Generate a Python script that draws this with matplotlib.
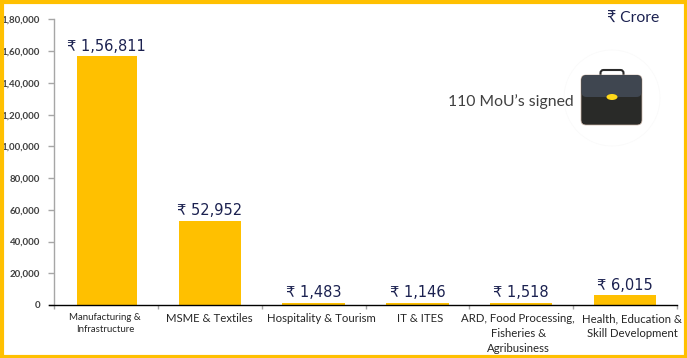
import numpy as np
import matplotlib
matplotlib.use('Agg')
import matplotlib.pyplot as plt
from matplotlib.patches import Rectangle, FancyBboxPatch, Circle, Ellipse
from matplotlib.transforms import ScaledTranslation

# data
categories = ['Manufacturing &\nInfrastructure', 'MSME & Textiles', 'Hospitality & Tourism',
              'IT & ITES', 'ARD, Food Processing,\nFisheries &\nAgribusiness',
              'Health, Education &\nSkill Development']
values = [156811, 52952, 1483, 1146, 1518, 6015]
value_labels = ['₹ 1,56,811', '₹ 52,952', '₹ 1,483', '₹ 1,146', '₹ 1,518', '₹ 6,015']
y_ticks = [0, 20000, 40000, 60000, 80000, 100000, 120000, 140000, 160000, 180000]
y_tick_labels = ['0', '20,000', '40,000', '60,000', '80,000', '1,00,000', '1,20,000',
                 '1,40,000', '1,60,000', '1,80,000']

W, H = 687, 358
YELLOW = '#FFC000'
NAVY = '#1B2150'
GREY = '#404040'
text_font = ['Lato', 'DejaVu Sans']
# horizontal nudges of the category labels, in pixels
label_shift = [-1, 0, 8, 3, -3, 7]

fig = plt.figure(figsize=(W / 100, H / 100), dpi=100)

# main chart
ax = fig.add_axes([54 / W, 1 - 305 / H, (677 - 54) / W, (305 - 19.5) / H])
pos = np.arange(len(values)) + 0.5
bars = ax.bar(pos, values, width=0.6, color=YELLOW)
bars[0].set_x(0.22)
bars[0].set_width(0.58)
ax.set_xlim(0, 6)
ax.set_ylim(0, 180000)

for s in ['top', 'right']:
    ax.spines[s].set_visible(False)
ax.spines['left'].set_color('#A6A6A6')
ax.spines['left'].set_linewidth(1)
ax.spines['bottom'].set_color('black')
ax.spines['bottom'].set_linewidth(1)
ax.spines['bottom'].set_bounds(-0.05, 6)
ax.spines['bottom'].set_zorder(5)

ax.set_yticks(y_ticks)
ax.set_yticklabels(y_tick_labels, fontsize=7, color=GREY, fontweight='bold', family=text_font)
ax.tick_params(axis='y', length=4, width=1, color='#A6A6A6', pad=6, direction='out')

ax.set_xticks(np.arange(0, 7))
ax.set_xticklabels([])
ax.tick_params(axis='x', which='major', length=3, width=1, color='#A6A6A6')
ax.set_xticks(pos, minor=True)
ax.set_xticklabels(categories, minor=True, fontsize=8.2, color='#262626', family=text_font,
                   linespacing=1.45)
ax.tick_params(axis='x', which='minor', length=0, pad=6)
ax.get_xticklabels(minor=True)[0].set_fontsize(6.9)
for t, dx in zip(ax.get_xticklabels(minor=True), label_shift):
    t.set_transform(t.get_transform() + ScaledTranslation(dx / 100, 0, fig.dpi_scale_trans))

for p, v, lab in zip(pos, values, value_labels):
    ax.annotate(lab, (p, v), xytext=(0, 2), textcoords='offset points', ha='center', va='bottom',
                fontsize=10.5, color=NAVY, family='DejaVu Sans')

# overlay in pixel coordinates: captions, briefcase, border
ov = fig.add_axes([0, 0, 1, 1], facecolor='none')
ov.set_xlim(0, W)
ov.set_ylim(H, 0)
ov.axis('off')

ov.text(633.5, 19, '₹ Crore', ha='center', va='center', fontsize=11.3, color=NAVY, family=text_font)
ov.text(511, 102, '110 MoU’s signed', ha='center', va='center', fontsize=11.3, color=GREY, family=text_font)

# briefcase
ov.add_patch(Circle((612, 98), 48, fill=False, ec='#FAFAFA', lw=0.6))
ov.add_patch(FancyBboxPatch((600.5, 70), 23, 8, boxstyle='round,pad=0,rounding_size=3',
                            fc='none', ec='#2B2B2B', lw=1.5))
ov.add_patch(FancyBboxPatch((581, 75), 61, 50, boxstyle='round,pad=0,rounding_size=5',
                            fc='#292A28', ec='#C9B3A6', lw=0.5))
ov.add_patch(FancyBboxPatch((581.5, 75), 60, 22, boxstyle='round,pad=0,rounding_size=5',
                            fc='#3F4650', ec='none'))
ov.add_patch(Ellipse((612, 97), 11, 6, fc='#FFD91A', ec='none'))

# yellow frame
ov.add_patch(Rectangle((1.5, 1.5), W - 3, H - 3, fill=False, ec=YELLOW, lw=3, zorder=10))

fig.savefig('out.png', dpi=100)
